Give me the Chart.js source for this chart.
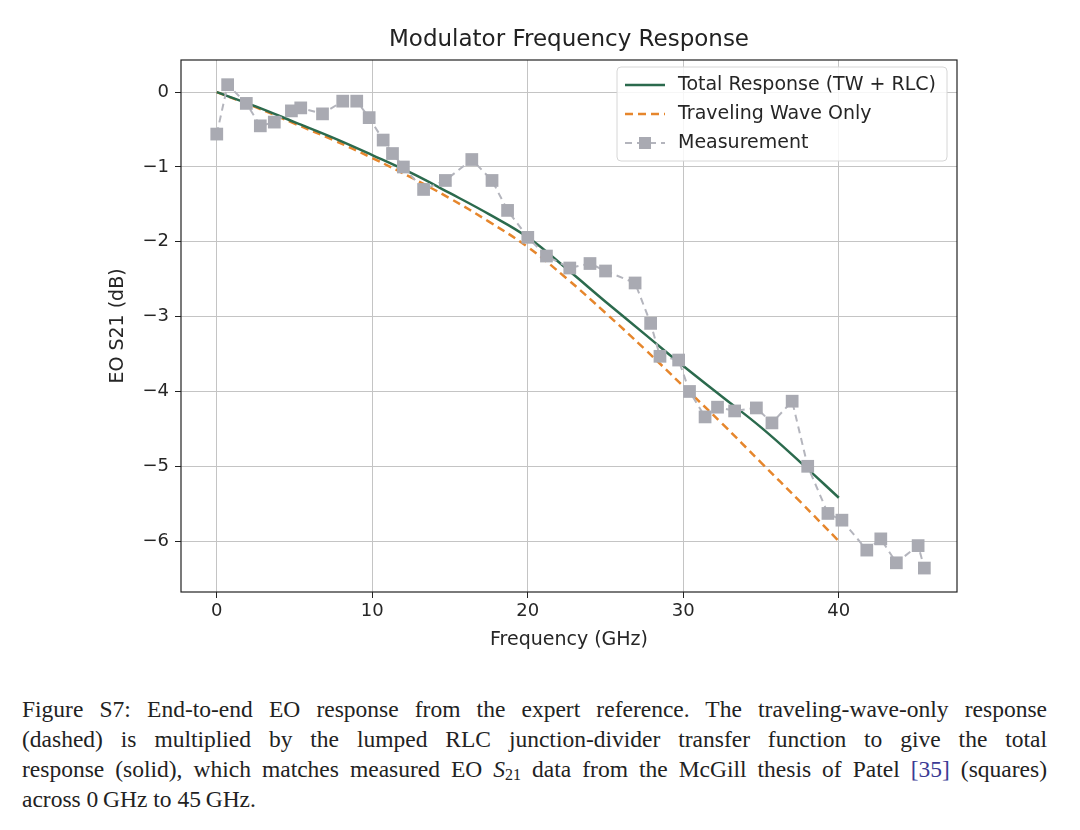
<!DOCTYPE html>
<html>
<head>
<meta charset="utf-8">
<script src="https://cdn.jsdelivr.net/npm/chart.js@4"></script>
<style>
  body { margin: 0; background: #fff; }
  #wrap { position: relative; width: 1080px; height: 830px; }
  #chart { position: absolute; left: 0; top: 0; }
  #caption {
    position: absolute; left: 22px; top: 694px; width: 1025px;
    font-family: "Liberation Serif", "DejaVu Serif", serif; font-size: 23.5px;
    line-height: 30px; color: #222;
  }
  #caption .j { display: block; text-align: justify; text-align-last: justify; }
  #caption .ref { color: #3b3b94; }
  #caption sub { font-size: 16px; line-height: 0; position: relative; top: 3px; vertical-align: baseline; }
</style>
</head>
<body>
<div id="wrap">
  <canvas id="chart" width="1080" height="680"></canvas>
  <div id="caption">
    <span class="j">Figure S7: End-to-end EO response from the expert reference. The traveling-wave-only response</span>
    <span class="j">(dashed) is multiplied by the lumped RLC junction-divider transfer function to give the total</span>
    <span class="j">response (solid), which matches measured EO <i>S</i><sub>21</sub> data from the McGill thesis of Patel <span class="ref">[35]</span> (squares)</span>
    <span>across 0&#8201;GHz to 45&#8201;GHz.</span>
  </div>
</div>
<script>
// model curves (GHz, dB)
const modelFreq = [0, 2.5, 5, 7.5, 10, 12.5, 15, 17.5, 20, 22.5, 25, 27.5, 30, 32.5, 35, 37.5, 40]
const totalDb = [0, -0.19, -0.4, -0.61, -0.84, -1.08, -1.35, -1.63, -1.94, -2.36, -2.8, -3.23, -3.66, -4.07, -4.48, -4.94, -5.42]
const twDb = [0, -0.2, -0.42, -0.64, -0.88, -1.14, -1.42, -1.73, -2.07, -2.49, -2.95, -3.43, -3.93, -4.43, -4.95, -5.47, -6.0]

// measured points
const measFreq = [0, 0.7, 1.9, 2.8, 3.7, 4.8, 5.4, 6.8, 8.1, 9.0, 9.8, 10.7, 11.3, 12.0, 13.3, 14.7, 16.4, 17.7, 18.7, 20.0, 21.2, 22.7, 24.0, 25.0, 26.9, 27.9, 28.5, 29.7, 30.4, 31.4, 32.2, 33.3, 34.7, 35.7, 37.0, 38.0, 39.3, 40.2, 41.8, 42.7, 43.7, 45.1, 45.5]
const measDb = [-0.56, 0.1, -0.15, -0.45, -0.4, -0.25, -0.21, -0.29, -0.12, -0.12, -0.34, -0.64, -0.82, -1.0, -1.3, -1.18, -0.9, -1.18, -1.58, -1.94, -2.19, -2.35, -2.29, -2.39, -2.55, -3.09, -3.53, -3.58, -4.0, -4.34, -4.21, -4.26, -4.22, -4.42, -4.13, -5.0, -5.63, -5.72, -6.12, -5.97, -6.29, -6.06, -6.36]

const xTicks = [0, 10, 20, 30, 40]
const yTicks = [-6, -5, -4, -3, -2, -1, 0]

const pairs = (xs, ys) => xs.map((x, i) => ({ x: x, y: ys[i] }))
const FONT = 'DejaVu Sans'
const minus = v => String(v).replace('-', '\u2212')

// box around the plot, title over the plot, legend in the upper right
const frame = {
    id: 'frame',
    afterDatasetsDraw(chart) {
        let { ctx, chartArea: a } = chart
        ctx.save()
        ctx.strokeStyle = '#222'
        ctx.lineWidth = 1.2
        ctx.strokeRect(a.left, a.top, a.right - a.left, a.bottom - a.top)

        ctx.fillStyle = '#222'
        ctx.font = '23px ' + FONT
        ctx.textAlign = 'center'
        ctx.textBaseline = 'middle'
        ctx.fillText('Modulator Frequency Response', (a.left + a.right) / 2, 40)
        ctx.textAlign = 'left'

        // legend
        let x0 = 617, y0 = 67, w = 330, h = 94
        ctx.fillStyle = 'rgba(255,255,255,0.85)'
        ctx.strokeStyle = '#d6d6d6'
        ctx.lineWidth = 1
        ctx.beginPath()
        ctx.roundRect(x0, y0, w, h, 4)
        ctx.fill()
        ctx.stroke()
        ctx.font = '19px ' + FONT
        chart.data.datasets.forEach((ds, i) => {
            let y = 85 + i * 29
            ctx.strokeStyle = ds.borderColor
            ctx.lineWidth = ds.borderWidth
            ctx.setLineDash(ds.borderDash || [])
            ctx.beginPath()
            ctx.moveTo(625, y)
            ctx.lineTo(665, y)
            ctx.stroke()
            ctx.setLineDash([])
            if (ds.pointRadius > 0) {
                ctx.fillStyle = ds.pointBackgroundColor
                ctx.fillRect(639, y - 6, 12, 12)
            }
            ctx.fillStyle = '#262626'
            ctx.fillText(ds.label, 678, y)
        })
        ctx.restore()
    }
}

let ctx = document.getElementById('chart').getContext('2d')

let myChart = new Chart(ctx, {
    type: 'line',
    data: {
        datasets: [{
            label: 'Total Response (TW + RLC)',
            data: pairs(modelFreq, totalDb),
            borderColor: '#2b6a4d',
            borderWidth: 2.5,
            pointRadius: 0,
            tension: 0.4,
            order: 1
        }, {
            label: 'Traveling Wave Only',
            data: pairs(modelFreq, twDb),
            borderColor: '#e6862c',
            borderWidth: 2.5,
            borderDash: [8, 5],
            pointRadius: 0,
            tension: 0.4,
            order: 2
        }, {
            label: 'Measurement',
            data: pairs(measFreq, measDb),
            borderColor: '#b4b5bd',
            borderWidth: 2,
            borderDash: [7, 5],
            pointStyle: 'rect',
            pointRadius: 9,
            pointBackgroundColor: '#a9aab2',
            pointBorderColor: '#a9aab2',
            pointBorderWidth: 0,
            order: 0
        }]
    },
    options: {
        responsive: false,
        animation: false,
        layout: { padding: { left: 0, right: 123, top: 60, bottom: 0 } },
        plugins: {
            legend: { display: false },
            tooltip: { enabled: false },
            title: { display: false }
        },
        scales: {
            x: {
                type: 'linear',
                min: -2.3,
                max: 47.6,
                afterBuildTicks: s => { s.ticks = xTicks.map(v => ({ value: v })) },
                afterFit: s => { s.height = 88 },
                grid: { color: '#c4c4c4', lineWidth: 1, tickLength: 6, tickColor: '#222', drawTicks: true },
                border: { display: false },
                ticks: { color: '#262626', font: { family: FONT, size: 18 }, padding: 3, maxRotation: 0, callback: v => minus(v) },
                title: { display: true, text: 'Frequency (GHz)', color: '#262626', font: { family: FONT, size: 19 }, padding: { top: 0, bottom: 29 } }
            },
            y: {
                min: -6.68,
                max: 0.43,
                afterBuildTicks: s => { s.ticks = yTicks.map(v => ({ value: v })) },
                afterFit: s => { s.width = 181 },
                grid: { color: '#c4c4c4', lineWidth: 1, tickLength: 6, tickColor: '#222', drawTicks: true },
                border: { display: false },
                ticks: { color: '#262626', font: { family: FONT, size: 18 }, padding: 6, callback: v => minus(v) },
                title: { display: true, text: 'EO S21 (dB)', color: '#262626', font: { family: FONT, size: 19 }, padding: { top: 107, bottom: 0 } }
            }
        }
    },
    plugins: [frame]
});
</script>
</body>
</html>
